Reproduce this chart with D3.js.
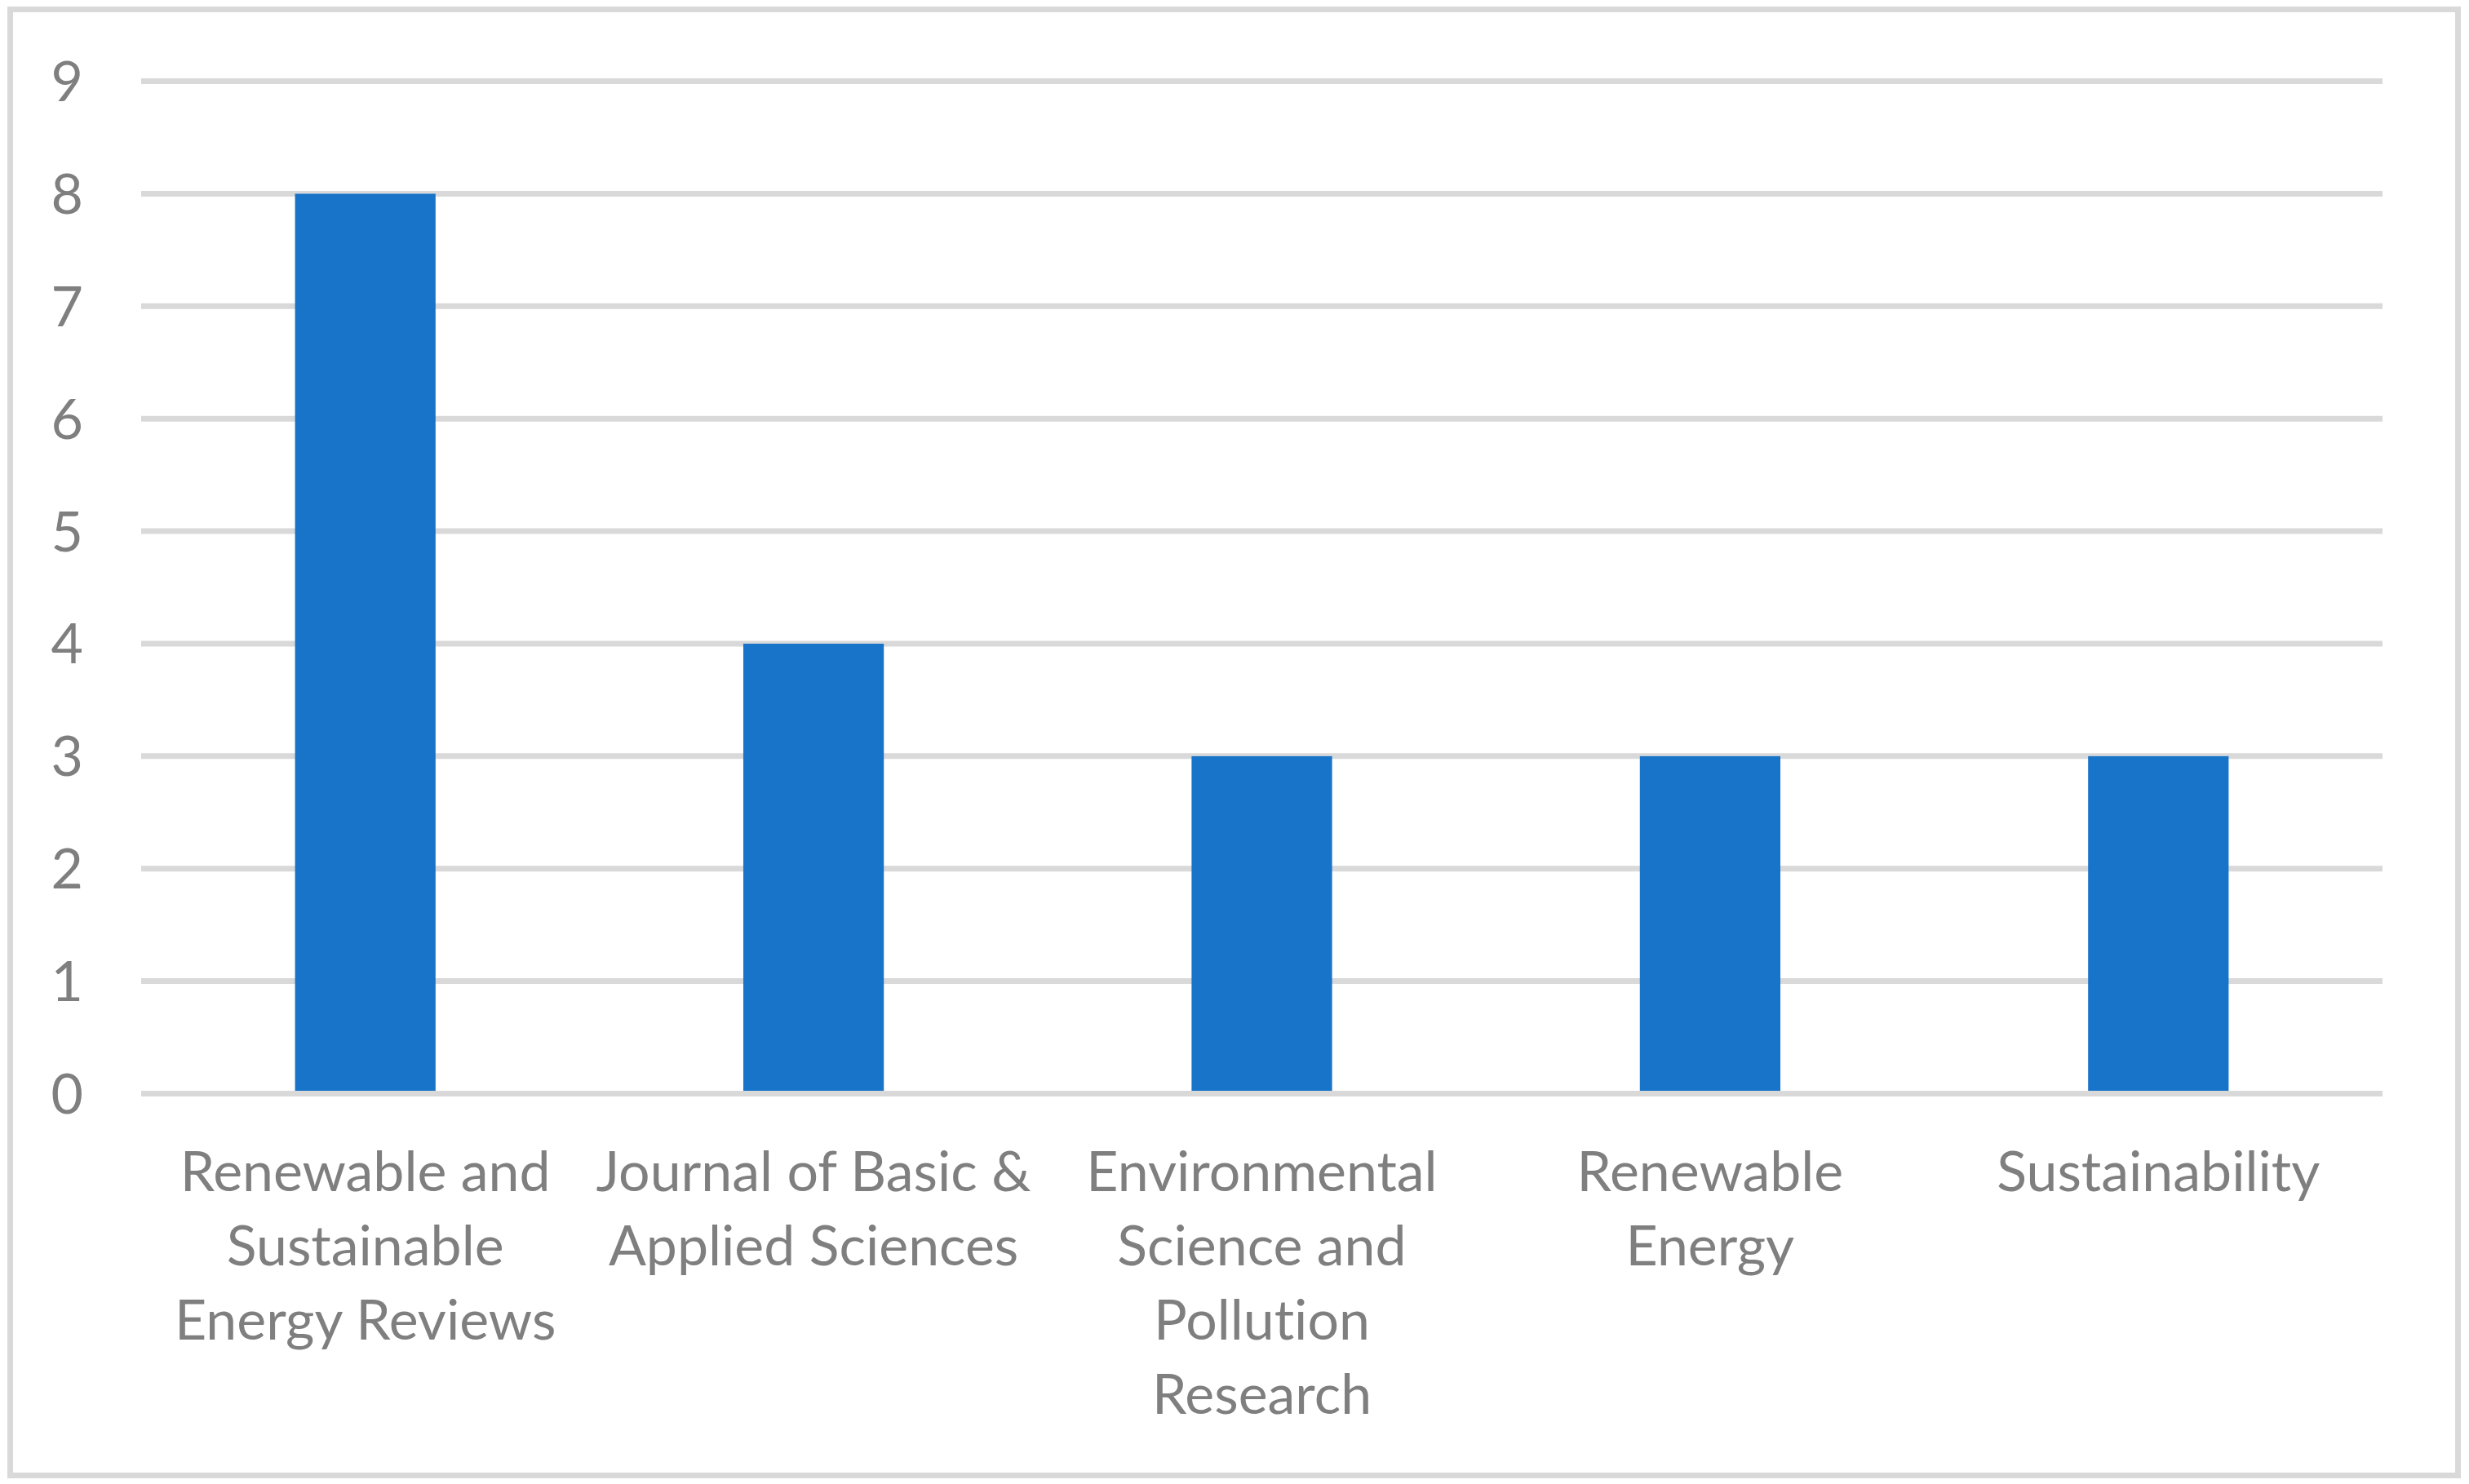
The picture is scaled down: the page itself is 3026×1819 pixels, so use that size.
<!DOCTYPE html>
<html>
<head>
<meta charset="utf-8">
<script src="https://cdn.jsdelivr.net/npm/d3@7/dist/d3.min.js"></script>
<style>
  html, body { margin: 0; padding: 0; background: #ffffff; }
  svg { display: block; }
  text { font-variant-ligatures: none; font-feature-settings: "liga" 0, "clig" 0; }
</style>
</head>
<body>
<svg id="chart" width="3026" height="1819"></svg>
<script>
// ---- data ----
const categories = [
  "Renewable and Sustainable Energy Reviews",
  "Journal of Basic & Applied Sciences",
  "Environmental Science and Pollution Research",
  "Renewable Energy",
  "Sustainability"
];
const labelLines = [
  ["Renewable and", "Sustainable", "Energy Reviews"],
  ["Journal of Basic &", "Applied Sciences"],
  ["Environmental", "Science and", "Pollution", "Research"],
  ["Renewable", "Energy"],
  ["Sustainability"]
];
const values = [8, 4, 3, 3, 3];
const yTicks = [0, 1, 2, 3, 4, 5, 6, 7, 8, 9];

// ---- layout ----
const plot = { left: 173, right: 2920, top: 99.6, bottom: 1340.5 };
const fontFamily = "Lato, 'Open Sans', sans-serif";
const textColor = "#7f7f7f";
const gridColor = "#d9d9d9";
const barColor = "#1874c8";

const svg = d3.select("#chart");

// border
svg.append("rect")
  .attr("x", 12.5).attr("y", 11.5)
  .attr("width", 3000).attr("height", 1797)
  .attr("fill", "#ffffff")
  .attr("stroke", gridColor)
  .attr("stroke-width", 7);

const x = d3.scaleBand()
  .domain(categories)
  .range([plot.left, plot.right])
  .paddingInner(2.19 / 3.19)
  .paddingOuter(2.19 / 3.19 / 2);

const y = d3.scaleLinear()
  .domain([0, 9])
  .range([plot.bottom, plot.top]);

// gridlines
svg.append("g")
  .selectAll("line")
  .data(yTicks)
  .join("line")
  .attr("x1", plot.left).attr("x2", plot.right)
  .attr("y1", d => y(d)).attr("y2", d => y(d))
  .attr("stroke", gridColor)
  .attr("stroke-width", 7);

// y tick labels
svg.append("g")
  .selectAll("text")
  .data(yTicks)
  .join("text")
  .attr("x", 102)
  .attr("y", d => y(d) - 2)
  .attr("text-anchor", "end")
  .attr("dominant-baseline", "central")
  .attr("font-family", fontFamily)
  .attr("font-size", 68)
  .attr("fill", textColor)
  .text(d => d);

// bars
svg.append("g")
  .selectAll("rect")
  .data(values)
  .join("rect")
  .attr("x", (d, i) => x(categories[i]))
  .attr("width", x.bandwidth())
  .attr("y", d => y(d))
  .attr("height", d => y(0) - 3.5 - y(d))
  .attr("fill", barColor);

// category labels
const lab = svg.append("g")
  .selectAll("text")
  .data(categories)
  .join("text")
  .attr("x", d => x(d) + x.bandwidth() / 2)
  .attr("y", 1460)
  .attr("text-anchor", "middle")
  .attr("font-family", fontFamily)
  .attr("font-size", 68)
  .attr("fill", textColor);

lab.each(function(d, i) {
  d3.select(this).selectAll("tspan")
    .data(labelLines[i])
    .join("tspan")
    .attr("x", x(d) + x.bandwidth() / 2)
    .attr("y", (t, j) => 1460 + j * 91)
    .text(t => t);
});
</script>
</body>
</html>
